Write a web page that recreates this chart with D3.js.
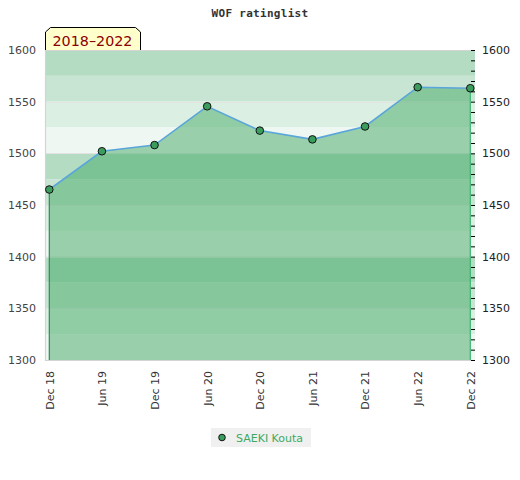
<!DOCTYPE html>
<html>
<head>
<meta charset="utf-8">
<script src="https://cdn.jsdelivr.net/npm/d3@7"></script>
<style>
  body { margin: 0; background: #fff; }
  svg { display: block; }
</style>
</head>
<body>
<svg id="chart" width="520" height="480"></svg>
<script>
// ---- data ----
const categories = ["Dec 18", "Jun 19", "Dec 19", "Jun 20", "Dec 20", "Jun 21", "Dec 21", "Jun 22", "Dec 22"];
const ratings = [1465, 1502, 1508, 1545.5, 1522, 1513.5, 1526, 1564, 1563];
const yTicks = [1300, 1350, 1400, 1450, 1500, 1550, 1600];
const seriesName = "SAEKI Kouta";
const chartTitle = "WOF ratinglist";
const periodLabel = "2018\u20132022";

// ---- layout ----
const svg = d3.select("#chart");
const L = 45, R = 475, T = 50, B = 360;

const x = d3.scalePoint().domain(categories).range([49.3, 470.3]);
const y = d3.scaleLinear().domain([1300, 1600]).range([B, T]);

// period box (behind plot)
svg.append("polygon")
  .attr("points", [[45.5,52],[45.5,32],[50.5,27.5],[135.5,27.5],[140.5,32],[140.5,52]].map(p => p.join(",")).join(" "))
  .attr("fill", "#ffffcc").attr("stroke", "#000").attr("stroke-width", 1);
svg.append("text")
  .attr("x", 52.5).attr("y", 45.5)
  .attr("font-family", "DejaVu Sans").attr("font-size", 14.3)
  .attr("fill", "#8b0000")
  .text(periodLabel);

// background bands
const bandColors = ["#b3dcc2", "#c8e5d3", "#dcefe3", "#eef7f1"];
const bands = d3.range(1600, 1300, -25);
svg.append("g").selectAll("rect").data(bands).join("rect")
  .attr("x", L).attr("width", R - L)
  .attr("y", d => y(d)).attr("height", d => y(d - 25) - y(d))
  .attr("fill", (d, i) => bandColors[i % 4]);

// faint grid lines
svg.append("g").selectAll("line").data(yTicks.filter(v => v > 1300 && v < 1600)).join("line")
  .attr("x1", L).attr("x2", R)
  .attr("y1", d => Math.round(y(d)) + 0.5).attr("y2", d => Math.round(y(d)) + 0.5)
  .attr("stroke", "#e2e2e2").attr("stroke-width", 1);

// area
const area = d3.area()
  .x((d, i) => x(categories[i]))
  .y0(y(1300))
  .y1(d => y(d));
svg.append("path").datum(ratings)
  .attr("d", area)
  .attr("fill", "rgb(67,170,102)").attr("fill-opacity", 0.5);

// vertical edges of area
svg.append("line")
  .attr("x1", x(categories[0])).attr("x2", x(categories[0]))
  .attr("y1", y(ratings[0])).attr("y2", B)
  .attr("stroke", "#2e8b57").attr("stroke-width", 1.2);
svg.append("line")
  .attr("x1", x(categories[categories.length - 1])).attr("x2", x(categories[categories.length - 1]))
  .attr("y1", y(ratings[ratings.length - 1])).attr("y2", B)
  .attr("stroke", "#3cb371").attr("stroke-width", 1.2);

// plot border (top, left, bottom)
svg.append("path")
  .attr("d", `M${R},${T + 0.5}H${L + 0.5}V${B + 0.5}H${R}`)
  .attr("fill", "none").attr("stroke", "#d4d4d4").attr("stroke-width", 1.2);

// line
const line = d3.line()
  .x((d, i) => x(categories[i]))
  .y(d => y(d));
svg.append("path").datum(ratings)
  .attr("d", line)
  .attr("fill", "none").attr("stroke", "#5aa5da").attr("stroke-width", 1.6);

// markers
svg.append("g").selectAll("circle").data(ratings).join("circle")
  .attr("cx", (d, i) => x(categories[i]))
  .attr("cy", d => y(d))
  .attr("r", 3.8)
  .attr("fill", "#3a9d5d").attr("stroke", "#111").attr("stroke-width", 1);

// right axis ticks (minor every 10)
const rightAxis = d3.axisLeft(y).tickValues(d3.range(1300, 1601, 10)).tickSize(4).tickFormat("");
const ra = svg.append("g").attr("transform", `translate(${R},0)`).call(rightAxis);
ra.select(".domain").remove();
ra.selectAll("line").attr("stroke", "#000");

// y labels left and right
const labelFont = "DejaVu Sans";
svg.append("g").selectAll("text").data(yTicks).join("text")
  .attr("x", 36).attr("y", d => y(d)).attr("dy", "0.35em")
  .attr("text-anchor", "end")
  .attr("font-family", labelFont).attr("font-size", 11)
  .attr("fill", "#444")
  .text(d => d);
svg.append("g").selectAll("text").data(yTicks).join("text")
  .attr("x", 482).attr("y", d => y(d)).attr("dy", "0.35em")
  .attr("text-anchor", "start")
  .attr("font-family", labelFont).attr("font-size", 11)
  .attr("fill", "#222")
  .text(d => d);

// x labels (rotated)
const xAxis = d3.axisBottom(x).tickSize(0).tickPadding(0);
const xa = svg.append("g").attr("transform", `translate(0,${B})`).call(xAxis);
xa.select(".domain").remove();
xa.selectAll("text")
  .attr("font-family", labelFont).attr("font-size", 11)
  .attr("fill", "#333")
  .attr("text-anchor", "end")
  .attr("transform", "translate(0,11) rotate(-90)")
  .attr("x", 0).attr("y", 0).attr("dy", "0.35em");

// title
svg.append("text")
  .attr("x", 260).attr("y", 17)
  .attr("text-anchor", "middle")
  .attr("font-family", "DejaVu Sans Mono").attr("font-weight", "bold")
  .attr("font-size", 11).attr("letter-spacing", 0.3)
  .attr("fill", "#333")
  .text(chartTitle);

// legend
const lg = svg.append("g");
lg.append("rect").attr("x", 211).attr("y", 428).attr("width", 100).attr("height", 19).attr("fill", "#f0f0f0");
lg.append("circle").attr("cx", 222).attr("cy", 437.5).attr("r", 3.3)
  .attr("fill", "#3a9d5d").attr("stroke", "#111").attr("stroke-width", 1);
lg.append("text").attr("x", 236).attr("y", 441.5)
  .attr("font-family", labelFont).attr("font-size", 11)
  .attr("fill", "#3daa62")
  .text(seriesName);
</script>
</body>
</html>
